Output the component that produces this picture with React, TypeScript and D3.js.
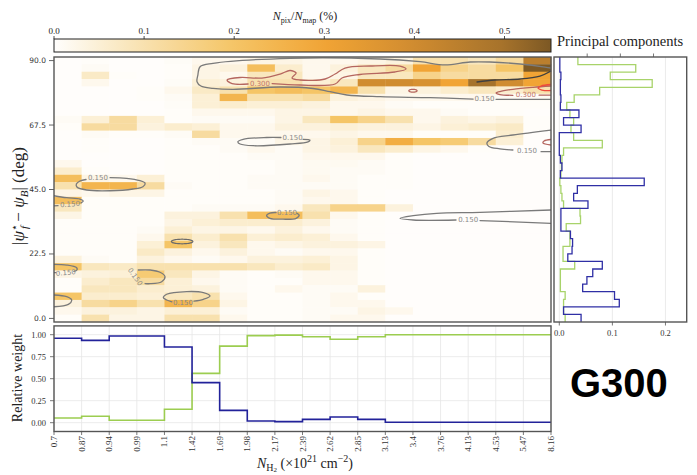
import React from "react";
import * as d3 from "d3";

// ---------------- data ----------------
const nh2Edges = ["0.7", "0.87", "0.94", "0.99", "1.1", "1.42", "1.69", "1.98", "2.17", "2.39", "2.62", "2.85", "3.13", "3.4", "3.76", "4.13", "4.53", "5.47", "8.16"];
const angleTicks = [0, 22.5, 45, 67.5, 90];
const fractionTicks = [0, 0.1, 0.2, 0.3, 0.4, 0.5];
const weightTicks = [0, 0.25, 0.5, 0.75, 1.0];
const componentTicks = [0, 0.1, 0.2];

// N_pix / N_map (%) per cell; rows from the top (~90 deg) down to ~0 deg, one column per N_H2 bin
const pixelFraction: number[][] = [
  [0.003, 0.005, 0.003, 0.003, 0.008, 0.02, 0.02, 0.03, 0.03, 0.02, 0.02, 0.03, 0.04, 0.1, 0.1, 0.08, 0.12, 0.45],
  [0.003, 0.01, 0.003, 0.003, 0.005, 0.03, 0.04, 0.22, 0.06, 0.02, 0.04, 0.08, 0.12, 0.3, 0.15, 0.12, 0.2, 0.55],
  [0.003, 0.07, 0.005, 0.003, 0.005, 0.03, 0.02, 0.08, 0.08, 0.02, 0.03, 0.08, 0.08, 0.15, 0.12, 0.12, 0.12, 0.3],
  [0.003, 0.02, 0.003, 0.003, 0.008, 0.05, 0.04, 0.1, 0.1, 0.05, 0.08, 0.4, 0.4, 0.38, 0.3, 0.5, 0.4, 0.3],
  [0.002, 0.003, 0.003, 0.005, 0.02, 0.07, 0.1, 0.2, 0.22, 0.2, 0.25, 0.1, 0.03, 0.04, 0.06, 0.08, 0.06, 0.1],
  [0.002, 0.003, 0.003, 0.005, 0.01, 0.05, 0.25, 0.1, 0.1, 0.12, 0.04, 0.03, 0.02, 0.02, 0.02, 0.02, 0.01, 0.01],
  [0.002, 0.003, 0.003, 0.003, 0.008, 0.05, 0.06, 0.05, 0.05, 0.04, 0.02, 0.02, 0.01, 0.005, 0.005, 0.005, 0.005, 0.005],
  [0.002, 0.003, 0.003, 0.003, 0.005, 0.02, 0.02, 0.02, 0.03, 0.03, 0.02, 0.03, 0.02, 0.02, 0.01, 0.005, 0.005, 0.003],
  [0.01, 0.05, 0.12, 0.05, 0.005, 0.01, 0.01, 0.01, 0.03, 0.08, 0.2, 0.15, 0.1, 0.02, 0.04, 0.03, 0.04, 0.005],
  [0.005, 0.12, 0.12, 0.04, 0.06, 0.05, 0.02, 0.02, 0.04, 0.04, 0.05, 0.04, 0.04, 0.03, 0.05, 0.06, 0.07, 0.005],
  [0.003, 0.01, 0.005, 0.005, 0.01, 0.12, 0.02, 0.02, 0.02, 0.02, 0.03, 0.02, 0.02, 0.005, 0.005, 0.005, 0.06, 0.003],
  [0.003, 0.005, 0.003, 0.003, 0.005, 0.01, 0.01, 0.01, 0.03, 0.03, 0.05, 0.15, 0.27, 0.2, 0.18, 0.12, 0.05, 0.003],
  [0.003, 0.005, 0.003, 0.003, 0.005, 0.005, 0.01, 0.02, 0.01, 0.03, 0.04, 0.08, 0.06, 0.03, 0.02, 0.005, 0.003, 0.002],
  [0.003, 0.003, 0.003, 0.003, 0.005, 0.005, 0.005, 0.01, 0.01, 0.02, 0.02, 0.02, 0.005, 0.003, 0.003, 0.002, 0.002, 0.002],
  [0.02, 0.003, 0.003, 0.003, 0.005, 0.005, 0.005, 0.005, 0.01, 0.015, 0.015, 0.01, 0.005, 0.003, 0.002, 0.002, 0.002, 0.002],
  [0.06, 0.005, 0.003, 0.003, 0.005, 0.005, 0.005, 0.005, 0.01, 0.015, 0.01, 0.01, 0.005, 0.003, 0.002, 0.002, 0.002, 0.002],
  [0.22, 0.03, 0.02, 0.05, 0.005, 0.005, 0.005, 0.01, 0.01, 0.02, 0.01, 0.005, 0.005, 0.003, 0.002, 0.002, 0.002, 0.002],
  [0.1, 0.25, 0.25, 0.12, 0.01, 0.005, 0.005, 0.01, 0.01, 0.01, 0.01, 0.005, 0.005, 0.003, 0.002, 0.002, 0.002, 0.002],
  [0.03, 0.02, 0.03, 0.03, 0.005, 0.005, 0.005, 0.005, 0.01, 0.03, 0.02, 0.005, 0.003, 0.002, 0.002, 0.002, 0.002, 0.002],
  [0.22, 0.005, 0.005, 0.005, 0.005, 0.005, 0.005, 0.005, 0.01, 0.02, 0.02, 0.005, 0.003, 0.002, 0.002, 0.002, 0.002, 0.002],
  [0.08, 0.005, 0.005, 0.005, 0.005, 0.01, 0.01, 0.01, 0.02, 0.08, 0.15, 0.15, 0.04, 0.003, 0.002, 0.002, 0.002, 0.002],
  [0.03, 0.005, 0.005, 0.005, 0.04, 0.04, 0.1, 0.22, 0.22, 0.1, 0.02, 0.005, 0.003, 0.002, 0.002, 0.002, 0.002, 0.002],
  [0.005, 0.005, 0.005, 0.005, 0.03, 0.05, 0.06, 0.06, 0.06, 0.04, 0.01, 0.005, 0.003, 0.002, 0.002, 0.002, 0.002, 0.002],
  [0.005, 0.005, 0.005, 0.01, 0.05, 0.03, 0.03, 0.02, 0.04, 0.02, 0.01, 0.005, 0.003, 0.002, 0.002, 0.002, 0.002, 0.002],
  [0.005, 0.005, 0.005, 0.02, 0.1, 0.06, 0.1, 0.05, 0.06, 0.05, 0.02, 0.005, 0.003, 0.002, 0.002, 0.002, 0.002, 0.002],
  [0.005, 0.005, 0.005, 0.05, 0.2, 0.04, 0.08, 0.02, 0.03, 0.04, 0.04, 0.03, 0.003, 0.002, 0.002, 0.002, 0.002, 0.002],
  [0.005, 0.005, 0.005, 0.07, 0.04, 0.02, 0.04, 0.02, 0.01, 0.02, 0.02, 0.005, 0.003, 0.002, 0.002, 0.002, 0.002, 0.002],
  [0.04, 0.01, 0.005, 0.04, 0.02, 0.01, 0.02, 0.04, 0.04, 0.05, 0.03, 0.005, 0.003, 0.002, 0.002, 0.002, 0.002, 0.002],
  [0.2, 0.08, 0.07, 0.1, 0.1, 0.1, 0.1, 0.08, 0.06, 0.07, 0.03, 0.005, 0.003, 0.002, 0.002, 0.002, 0.002, 0.002],
  [0.03, 0.04, 0.05, 0.18, 0.08, 0.03, 0.01, 0.005, 0.01, 0.02, 0.02, 0.005, 0.003, 0.002, 0.002, 0.002, 0.002, 0.002],
  [0.005, 0.06, 0.08, 0.12, 0.05, 0.02, 0.01, 0.005, 0.005, 0.02, 0.02, 0.005, 0.003, 0.002, 0.002, 0.002, 0.002, 0.002],
  [0.005, 0.08, 0.08, 0.06, 0.05, 0.04, 0.01, 0.005, 0.02, 0.01, 0.01, 0.04, 0.003, 0.002, 0.002, 0.002, 0.002, 0.002],
  [0.2, 0.06, 0.06, 0.05, 0.08, 0.1, 0.02, 0.005, 0.005, 0.01, 0.02, 0.005, 0.003, 0.002, 0.002, 0.002, 0.002, 0.002],
  [0.04, 0.12, 0.15, 0.1, 0.25, 0.15, 0.03, 0.005, 0.005, 0.01, 0.02, 0.02, 0.003, 0.002, 0.002, 0.002, 0.002, 0.002],
  [0.02, 0.04, 0.04, 0.03, 0.05, 0.05, 0.01, 0.005, 0.005, 0.01, 0.01, 0.03, 0.02, 0.002, 0.002, 0.002, 0.002, 0.002],
  [0.005, 0.1, 0.03, 0.03, 0.1, 0.1, 0.02, 0.005, 0.005, 0.01, 0.02, 0.02, 0.003, 0.002, 0.002, 0.002, 0.002, 0.002],
];

// relative weight of the two components per N_H2 bin
const weightComp1 = [0.959, 0.936, 0.985, 0.985, 0.86, 0.455, 0.14, 0.02, 0.012, 0.038, 0.065, 0.038, 0.005, 0.005, 0.005, 0.005, 0.005, 0.005];
const weightComp2 = [0.053, 0.073, 0.027, 0.027, 0.152, 0.56, 0.87, 0.99, 0.995, 0.977, 0.948, 0.977, 1.0, 1.0, 1.0, 1.0, 1.0, 1.0];

// principal components, bins from the top (~90 deg) to the bottom (~0 deg)
const comp1Profile = [0.001, 0.001, 0.003, 0.002, 0.002, 0.003, 0.002, 0.037, 0.008, 0.041, 0.0, 0.0, 0.0, 0.002, 0.005, 0.002, 0.16, 0.034, 0.027, 0.054, 0.003, 0.003, 0.003, 0.021, 0.025, 0.024, 0.016, 0.081, 0.063, 0.052, 0.044, 0.104, 0.113, 0.008, 0.041];
const comp2Profile = [0.035, 0.144, 0.096, 0.175, 0.076, 0.028, 0.014, 0.02, 0.027, 0.022, 0.027, 0.081, 0.008, 0.005, 0.004, 0.003, 0.001, 0.003, 0.005, 0.008, 0.039, 0.04, 0.013, 0.02, 0.02, 0.007, 0.007, 0.029, 0.002, 0.002, 0.002, 0.011, 0.008, 0.008, 0.011];

// contour lines as [N_H2 bin position, angle in deg]
type Pt = [number, number];
const contour150: Pt[][] = [
  [[18.0, 87.4], [17.78, 87.75], [16.88, 88.8], [15.79, 89.5], [15.07, 89.5], [14.16, 88.5], [13.26, 89.6], [11.81, 90.55], [8.55, 90.79], [5.76, 89.05], [5.29, 87.86], [5.21, 84.96], [5.18, 82.62], [5.32, 81.12], [5.76, 80.32], [6.48, 79.97], [8.19, 80.77], [9.38, 80.25], [10.0, 79.13], [10.61, 77.98], [11.81, 77.39], [13.62, 77.04], [15.18, 76.58]],
  [[16.01, 76.48], [18.0, 76.48]],
  [[9.02, 62.52], [9.27, 62.27], [9.2, 61.64], [8.55, 60.88], [7.21, 60.28], [6.74, 60.88], [6.66, 61.68], [6.85, 62.52], [7.7, 63.15], [8.22, 63.15]],
  [[18.0, 65.76], [16.62, 64.02], [15.9, 62.87], [15.68, 61.23], [15.75, 60.01], [16.15, 59.2], [16.62, 58.78]],
  [[17.64, 58.19], [18.0, 58.19]],
  [[2.03, 49.12], [2.63, 48.91], [3.11, 48.07], [3.3, 47.16], [3.22, 45.97], [2.86, 45.17], [2.03, 44.57], [1.18, 44.82], [0.83, 45.87], [0.81, 46.92], [0.94, 47.96], [1.16, 48.49]],
  [[0.0, 42.83], [0.46, 42.13], [0.94, 41.68], [1.06, 40.98], [0.98, 40.35]],
  [[0.145, 39.38], [0.0, 39.31]],
  [[0.0, 18.89], [0.46, 18.64], [0.82, 17.7], [0.83, 16.9], [0.72, 16.44]],
  [[0.07, 16.0], [0.0, 16.0]],
  [[3.05, 16.9], [3.48, 16.9], [3.84, 16.1], [4.02, 14.56], [3.9, 12.81], [3.48, 12.11], [3.3, 12.18]],
  [[0.0, 8.17], [0.46, 7.58], [0.64, 6.42], [0.52, 4.92], [0.0, 4.08]],
  [[4.27, 5.81], [4.08, 6.44], [3.96, 7.27], [4.08, 8.43], [4.81, 9.37], [5.41, 9.02], [5.65, 7.83], [5.41, 6.68], [5.07, 6.05]],
  [[8.8, 36.69], [8.88, 36.09], [8.77, 34.94], [8.29, 34.63], [7.82, 34.94], [7.7, 35.92], [7.82, 36.79], [8.04, 36.97]],
  [[18.0, 37.84], [15.43, 37.04], [13.86, 36.69], [13.01, 35.85], [12.53, 34.94], [13.01, 34.35], [14.56, 34.35]],
  [[15.43, 34.17], [18.0, 33.2]],
];
const contour150Dark: Pt[][] = [
  [[15.32, 82.52], [15.97, 83.22], [16.88, 83.57], [17.6, 84.61], [18.0, 86.36]],
];
const contour300: Pt[][] = [
  [[7.03, 81.82], [6.45, 81.99], [6.27, 83.22], [6.74, 84.09], [7.53, 83.91], [8.19, 85.31], [8.55, 86.53], [8.77, 85.66], [8.62, 83.91], [8.91, 83.22], [9.82, 83.57], [10.18, 85.31], [10.54, 87.4], [11.45, 88.1], [12.53, 88.1], [12.75, 87.06], [12.35, 86.01], [11.08, 85.14], [10.43, 83.91], [10.18, 81.82], [8.91, 81.47], [7.9, 81.99]],
  [[18.0, 81.12], [17.35, 80.67], [16.62, 79.97], [16.15, 79.2], [16.01, 78.68], [16.15, 78.15], [16.62, 77.88]],
  [[17.57, 77.91], [18.0, 77.91]],
  [[18.0, 62.45], [17.75, 61.93], [17.71, 61.23], [18.0, 60.53]],
];
const contour450: Pt[][] = [
  [[18.0, 81.65], [17.64, 81.12], [17.53, 80.42], [17.67, 79.73], [18.0, 79.55]],
];
const ellipses150 = [{ c: 4.64, a: 26.85, rc: 0.39, ra: 0.8 }];
const ellipses300 = [{ c: 13.0, a: 79.48, rc: 0.15, ra: 0.5 }];
const labels150 = [
  { c: 15.59, a: 76.58, rot: 0 },
  { c: 8.64, a: 62.87, rot: 0 },
  { c: 17.13, a: 58.61, rot: 0 },
  { c: 1.59, a: 48.91, rot: 0 },
  { c: 0.58, a: 39.76, rot: -4 },
  { c: 0.43, a: 15.85, rot: -5 },
  { c: 2.93, a: 14.45, rot: 55 },
  { c: 4.67, a: 5.36, rot: 0 },
  { c: 8.44, a: 36.97, rot: 0 },
  { c: 15.0, a: 34.24, rot: 0 },
];
const labels300 = [
  { c: 7.46, a: 81.99, rot: 0 },
  { c: 17.09, a: 78.15, rot: 0 },
];

// ---------------- chart ----------------
const SERIF = "'Liberation Serif', 'DejaVu Serif', serif";
const SANS = "'DejaVu Sans', sans-serif";
const BLUE = "#22229a";
const GREEN = "#9ccd50";

export default function App() {
  const L = 54, R = 551, T = 57, B = 322;
  const nCols = nh2Edges.length - 1;
  const x = d3.scaleLinear().domain([0, nCols]).range([L, R]);
  const yDeg = d3.scaleLinear().domain([-1.25, 91.25]).range([B, T]);
  const rowBand = d3.scaleBand<number>().domain(d3.range(pixelFraction.length)).range([T, B]);
  const color = d3
    .scaleLinear<string>()
    .domain([0, 0.1, 0.2, 0.3, 0.4, 0.5, 0.5516])
    .range(["#fffefd", "#f8e1ae", "#f5c566", "#f1a435", "#d08c30", "#a5722b", "#7c5824"])
    .clamp(true);

  // colorbar
  const cbT = 39, cbB = 52;
  const cbX = d3.scaleLinear().domain([0, 0.5516]).range([L, R]);
  const stops = d3.range(0, 1.0001, 0.05);

  // weight panel
  const wT = 325.9, wB = 431.5;
  const yW = d3.scaleLinear().domain([-0.1, 1.1]).range([wB, wT]);
  const stepLine = d3
    .line<number>()
    .x((_, i) => x(i))
    .y((d) => yW(d))
    .curve(d3.curveStepAfter);

  // principal component panel
  const pL = 554, pR = 686.7;
  const xPC = d3.scaleLinear().domain([-0.01, 0.24]).range([pL, pR]);
  const topTick = d3.scaleLinear().domain([0, 4]).range([pL, pR]);
  const pcBand = d3.scaleBand<number>().domain(d3.range(comp1Profile.length)).range([T, B]);
  const profilePath = (vals: number[]) => {
    const p = d3.path();
    vals.forEach((v, k) => {
      const y0 = pcBand(k)!;
      const xv = xPC(v);
      if (k === 0) p.moveTo(xv, y0);
      else p.lineTo(xv, y0);
      p.lineTo(xv, y0 + pcBand.bandwidth());
    });
    return p.toString();
  };

  const cLine = d3
    .line<Pt>()
    .x((d) => x(d[0]))
    .y((d) => yDeg(d[1]))
    .curve(d3.curveCatmullRom.alpha(0.5));
  const ellipsePath = (e: { c: number; a: number; rc: number; ra: number }) => {
    const pts: Pt[] = d3.range(0, 2 * Math.PI, Math.PI / 24).map((t) => [e.c + e.rc * Math.cos(t), e.a + e.ra * Math.sin(t)]);
    return d3.line<Pt>().x((d) => x(d[0])).y((d) => yDeg(d[1])).curve(d3.curveCatmullRomClosed)(pts) || "";
  };

  return (
    <svg width={697} height={475} style={{ position: "absolute", left: 0, top: 0, background: "#fff" }}>
      <defs>
        <linearGradient id="cbGrad" x1="0" x2="1" y1="0" y2="0">
          {stops.map((s) => (
            <stop key={s} offset={`${s * 100}%`} stopColor={color(s * 0.5516)} />
          ))}
        </linearGradient>
        <clipPath id="heatClip">
          <rect x={L} y={T} width={R - L} height={B - T} />
        </clipPath>
      </defs>

      {/* colorbar */}
      <rect x={L} y={cbT} width={R - L} height={cbB - cbT} fill="url(#cbGrad)" stroke="#222" strokeWidth={1} />
      {fractionTicks.map((t) => (
        <g key={t}>
          <line x1={cbX(t)} x2={cbX(t)} y1={cbT} y2={cbT - 3} stroke="#222" strokeWidth={0.8} />
          <text x={cbX(t)} y={33.5} textAnchor="middle" fontFamily={SERIF} fontSize={9} fill="#222">
            {t.toFixed(1)}
          </text>
        </g>
      ))}
      <text x={305} y={20} textAnchor="middle" fontFamily={SERIF} fontSize={12} fill="#222">
        <tspan fontStyle="italic">N</tspan>
        <tspan fontSize={8} dy={2.5}>pix</tspan>
        <tspan dy={-2.5}>/</tspan>
        <tspan fontStyle="italic">N</tspan>
        <tspan fontSize={8} dy={2.5}>map</tspan>
        <tspan dy={-2.5}> (%)</tspan>
      </text>

      {/* heatmap */}
      <g>
        {pixelFraction.map((row, j) =>
          row.map((v, c) => (
            <rect
              key={`${j}-${c}`}
              x={x(c)}
              y={rowBand(j)!}
              width={x(c + 1) - x(c) + 0.4}
              height={rowBand.bandwidth() + 0.4}
              fill={color(v)}
            />
          ))
        )}
      </g>
      <g clipPath="url(#heatClip)" fill="none" strokeLinecap="round">
        {contour150.map((s, i) => (
          <path key={`g${i}`} d={cLine(s) || ""} stroke="#7a7a7a" strokeWidth={1.3} />
        ))}
        {contour150Dark.map((s, i) => (
          <path key={`d${i}`} d={cLine(s) || ""} stroke="#3f3f3f" strokeWidth={1.3} />
        ))}
        {ellipses150.map((e, i) => (
          <path key={`ge${i}`} d={ellipsePath(e)} stroke="#6a6a6a" strokeWidth={1.2} />
        ))}
        {contour300.map((s, i) => (
          <path key={`r${i}`} d={cLine(s) || ""} stroke="#b5665f" strokeWidth={1.3} />
        ))}
        {ellipses300.map((e, i) => (
          <path key={`re${i}`} d={ellipsePath(e)} stroke="#b5665f" strokeWidth={1.2} />
        ))}
        {contour450.map((s, i) => (
          <path key={`b${i}`} d={cLine(s) || ""} stroke="#ee4a3c" strokeWidth={1.3} />
        ))}
        {labels150.map((l, i) => (
          <text
            key={`l1${i}`}
            transform={`translate(${x(l.c)},${yDeg(l.a)}) rotate(${l.rot})`}
            textAnchor="middle"
            dominantBaseline="central"
            fontFamily={SANS}
            fontSize={7}
            fill="#8a8a8a"
          >
            0.150
          </text>
        ))}
        {labels300.map((l, i) => (
          <text
            key={`l3${i}`}
            transform={`translate(${x(l.c)},${yDeg(l.a)}) rotate(${l.rot})`}
            textAnchor="middle"
            dominantBaseline="central"
            fontFamily={SANS}
            fontSize={7}
            fill="#c2756c"
          >
            0.300
          </text>
        ))}
      </g>
      <rect x={L} y={T} width={R - L} height={B - T} fill="none" stroke="#555" strokeWidth={1.4} />
      {angleTicks.map((t) => (
        <g key={t}>
          <line x1={L} x2={L - 5} y1={yDeg(t)} y2={yDeg(t)} stroke="#555" strokeWidth={0.9} />
          <text x={L - 8} y={yDeg(t)} textAnchor="end" dominantBaseline="central" fontFamily={SANS} fontSize={7.5} fill="#333">
            {t.toFixed(1)}
          </text>
        </g>
      ))}
      <text transform="translate(24,196) rotate(-90)" textAnchor="middle" fontFamily={SERIF} fontSize={17} fill="#222">
        <tspan>|</tspan>
        <tspan fontStyle="italic">ψ</tspan>
        <tspan fontSize={11} dy={-6}>⋆</tspan>
        <tspan fontSize={11} fontStyle="italic" dx={-5} dy={10}>f</tspan>
        <tspan dy={-4}> − </tspan>
        <tspan fontStyle="italic">ψ</tspan>
        <tspan fontSize={11} fontStyle="italic" dy={4}>B</tspan>
        <tspan dy={-4}>| (deg)</tspan>
      </text>

      {/* weights panel */}
      <g>
        {nh2Edges.map((_, i) => (
          <line key={i} x1={x(i)} x2={x(i)} y1={wT} y2={wB} stroke="#e6e6e6" strokeWidth={0.8} />
        ))}
        {weightTicks.map((t) => (
          <line key={t} x1={L} x2={R} y1={yW(t)} y2={yW(t)} stroke="#e6e6e6" strokeWidth={0.8} />
        ))}
        <path d={stepLine([...weightComp2, weightComp2[weightComp2.length - 1]]) || ""} fill="none" stroke={GREEN} strokeWidth={1.6} />
        <path d={stepLine([...weightComp1, weightComp1[weightComp1.length - 1]]) || ""} fill="none" stroke={BLUE} strokeWidth={1.6} />
        <rect x={L} y={wT} width={R - L} height={wB - wT} fill="none" stroke="#555" strokeWidth={1.4} />
        {weightTicks.map((t) => (
          <g key={t}>
            <line x1={L} x2={L - 4} y1={yW(t)} y2={yW(t)} stroke="#555" strokeWidth={0.8} />
            <text x={L - 8} y={yW(t)} textAnchor="end" dominantBaseline="central" fontFamily={SERIF} fontSize={8.5} fill="#333">
              {t.toFixed(2)}
            </text>
          </g>
        ))}
        {nh2Edges.map((lab, i) => (
          <g key={lab}>
            <line x1={x(i)} x2={x(i)} y1={wB} y2={wB + 3.5} stroke="#555" strokeWidth={0.8} />
            <text
              transform={`translate(${x(i)},${wB + 4.5}) rotate(-90)`}
              textAnchor="end"
              dominantBaseline="central"
              fontFamily={SERIF}
              fontSize={9}
              fill="#333"
            >
              {lab}
            </text>
          </g>
        ))}
        <text transform="translate(22,378) rotate(-90)" textAnchor="middle" fontFamily={SERIF} fontSize={14} fill="#222">
          Relative weight
        </text>
        <text x={305} y={468} textAnchor="middle" fontFamily={SERIF} fontSize={14} fill="#222">
          <tspan fontStyle="italic">N</tspan>
          <tspan fontSize={10} dy={2.5}>H</tspan>
          <tspan fontSize={7} dy={1.5}>2</tspan>
          <tspan dy={-4}> (×10</tspan>
          <tspan fontSize={10} dy={-6}>21</tspan>
          <tspan dy={6}> cm</tspan>
          <tspan fontSize={10} dy={-6}>−2</tspan>
          <tspan dy={6}>)</tspan>
        </text>
      </g>

      {/* principal components panel */}
      <g>
        {componentTicks.map((t) => (
          <line key={t} x1={xPC(t)} x2={xPC(t)} y1={T} y2={B} stroke="#e6e6e6" strokeWidth={0.8} />
        ))}
        <path d={profilePath(comp2Profile)} fill="none" stroke="#a8d36a" strokeWidth={1.3} />
        <path d={profilePath(comp1Profile)} fill="none" stroke="#2f2fa5" strokeWidth={1.3} />
        <rect x={pL} y={T} width={pR - pL} height={B - T} fill="none" stroke="#555" strokeWidth={1.4} />
        {[1, 2, 3].map((t) => (
          <line key={t} x1={topTick(t)} x2={topTick(t)} y1={T} y2={T - 3.5} stroke="#555" strokeWidth={0.8} />
        ))}
        {componentTicks.map((t) => (
          <g key={t}>
            <line x1={xPC(t)} x2={xPC(t)} y1={B} y2={B + 3.5} stroke="#555" strokeWidth={0.8} />
            <text x={xPC(t)} y={335.5} textAnchor="middle" fontFamily={SERIF} fontSize={8.5} fill="#333">
              {t.toFixed(1)}
            </text>
          </g>
        ))}
        <text x={557} y={46} fontFamily={SERIF} fontSize={14.5} fill="#222">
          Principal components
        </text>
      </g>

      <text x={570} y={397} fontFamily="'Liberation Sans', Arial, sans-serif" fontWeight="bold" fontSize={40} fill="#000">
        G300
      </text>
    </svg>
  );
}
